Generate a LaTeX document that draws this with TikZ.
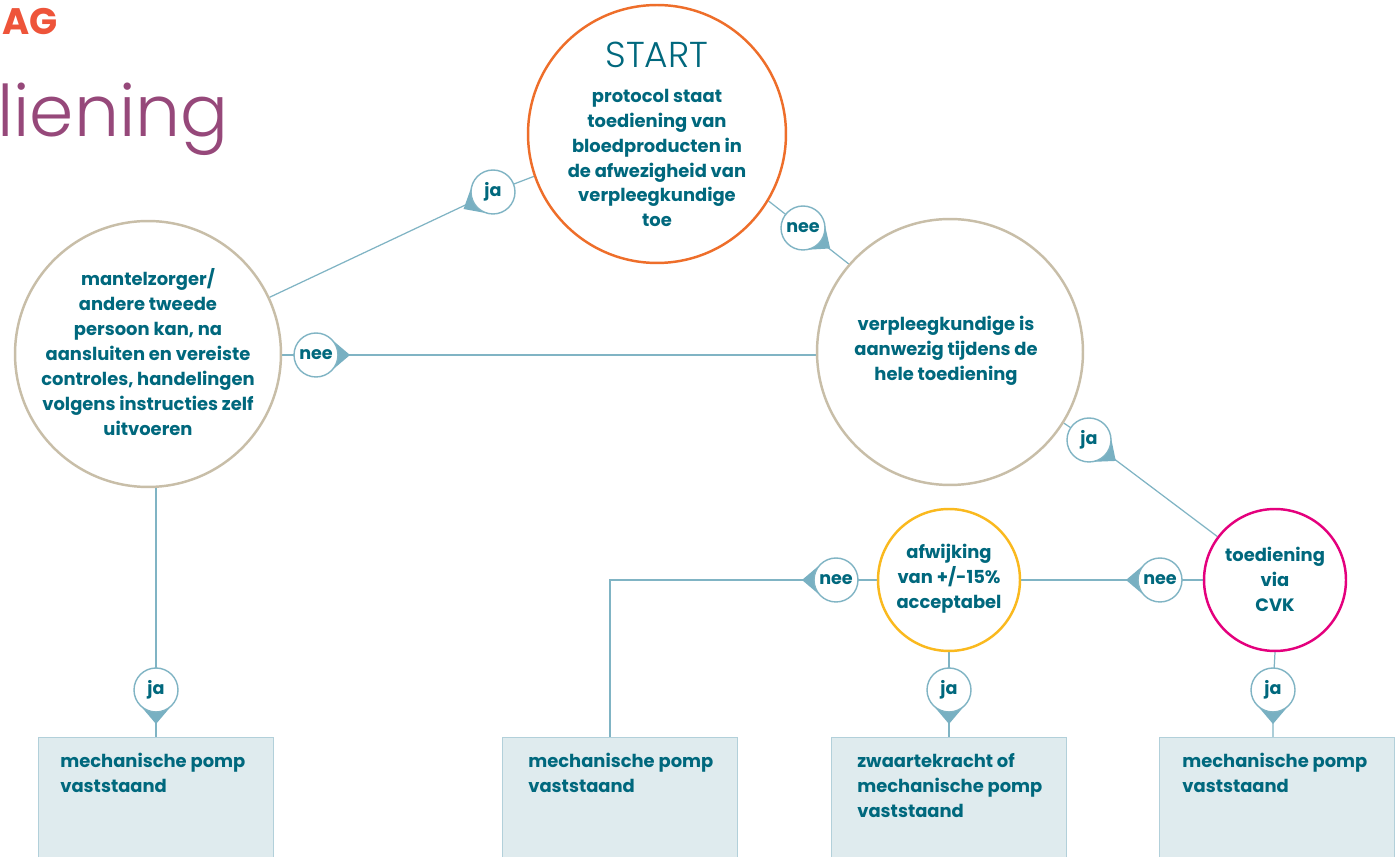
\documentclass[tikz,border=0pt]{standalone}
\usepackage{fontspec}
\setmainfont{Poppins}
\newfontfamily\lightfont{Poppins Light}
\usetikzlibrary{calc}
\pgfdeclarelayer{bg}
\pgfsetlayers{bg,main}
\definecolor{txtteal}{RGB}{0,104,125}
\definecolor{lineblue}{RGB}{128,180,196}
\definecolor{pinblue}{RGB}{120,176,194}
\definecolor{startorange}{RGB}{238,110,42}
\definecolor{beige}{RGB}{200,190,168}
\definecolor{gold}{RGB}{250,185,30}
\definecolor{magentaring}{RGB}{228,0,125}
\definecolor{boxfill}{RGB}{223,235,238}
\definecolor{boxline}{RGB}{178,208,218}
\definecolor{titlered}{RGB}{238,84,58}
\definecolor{titlepurple}{RGB}{150,72,122}
\tikzset{
  ring/.style={circle, draw=#1, line width=1.4pt, fill=white, inner sep=0pt},
  bigring/.style={ring=#1, minimum size=5.32cm},
  smallring/.style={ring=#1, minimum size=2.84cm},
  ctext/.style={align=center, text=txtteal, font=\bfseries\fontsize{10.2}{14.17}\selectfont, inner sep=0pt},
  mk/.style={circle, draw=lineblue, line width=0.8pt, fill=white, inner sep=0pt, minimum size=0.88cm, text=txtteal, font=\bfseries\fontsize{10}{12}\selectfont},
  conn/.style={draw=lineblue, line width=0.7pt},
  boxs/.style={rectangle, draw=boxline, line width=0.6pt, fill=boxfill, minimum width=4.7cm, minimum height=2.6cm, inner sep=0pt, anchor=north west},
  btext/.style={align=left, anchor=north west, text=txtteal, font=\bfseries\fontsize{10.2}{14.17}\selectfont, inner sep=0pt},
}
\newcommand\pinmark[5]{%
  \fill[pinblue] ($(#2,#3)+(#4+50:22)$) -- ($(#2,#3)+(#4:34)$) -- ($(#2,#3)+(#4-50:22)$) -- cycle;
  \node[mk] (#1) at (#2,#3) {#5};}
\begin{document}
\begin{tikzpicture}[x=0.02cm,y=0.02cm]
\useasboundingbox (0,0) rectangle (1400,-857);
\clip (0,0) rectangle (1400,-857);
% title fragments
\node[anchor=base west, inner sep=0pt, text=titlered, font=\bfseries\fontsize{21}{24}\selectfont] (tag) at (2,-35) {AG};
\node[anchor=base west, inner sep=0pt, text=titlepurple, font=\lightfont\fontsize{40.5}{46}\selectfont] (ttl) at (-3,-137) {liening};
% circles
\node[ring=startorange, minimum size=5.16cm] (st) at (657,-134) {};
\node[bigring=beige] (mz) at (148,-354) {};
\node[bigring=beige] (vp) at (950,-352) {};
\node[smallring=gold] (aw) at (949,-580) {};
\node[smallring=magentaring] (cvk) at (1275,-580) {};
% circle texts
\node[inner sep=0pt, text=txtteal, font=\lightfont\fontsize{20.5}{22}\selectfont] (stt) at (657,-55) {START};
\node[ctext] (stb) at (657,-158) {protocol staat\\toediening van\\bloedproducten in\\de afwezigheid van\\verpleegkundige\\toe};
\node[ctext] (mzt) at (148,-352) {mantelzorger/\\andere tweede\\persoon kan, na\\aansluiten en vereiste\\controles, handelingen\\volgens instructies zelf\\uitvoeren};
\node[ctext] (vpt) at (946,-351) {verpleegkundige is\\aanwezig tijdens de\\hele toediening};
\node[ctext] (awt) at (949,-579) {afwijking\\van +/-15\%\\acceptabel};
\node[ctext] (cvkt) at (1275,-579) {toediening\\via\\CVK};
% boxes
\node[boxs] (b1) at (38,-737) {};
\node[boxs] (b2) at (502,-737) {};
\node[boxs] (b3) at (831,-737) {};
\node[boxs] (b4) at (1159,-737) {};
\node[btext] (b1t) at (60,-753) {mechanische pomp\\vaststaand};
\node[btext] (b2t) at (528,-753) {mechanische pomp\\vaststaand};
\node[btext] (b3t) at (857,-753) {zwaartekracht of\\mechanische pomp\\vaststaand};
\node[btext] (b4t) at (1182,-753) {mechanische pomp\\vaststaand};
% markers
\pinmark{m1}{493}{-192}{210}{ja}
\pinmark{m2}{803}{-228}{-37}{nee}
\pinmark{m3}{316}{-355}{0}{nee}
\pinmark{m4}{1089}{-440}{-38}{ja}
\pinmark{m5}{1160}{-580}{180}{nee}
\pinmark{m6}{836}{-580}{180}{nee}
\pinmark{m7}{156}{-690}{270}{ja}
\pinmark{m8}{949}{-690}{270}{ja}
\pinmark{m9}{1273}{-690}{270}{ja}
\coordinate (cn) at (610,-580);
% connectors
\begin{pgfonlayer}{bg}
\fill[white] (0,0) rectangle (1400,-857);
\draw[conn] (mz.25) -- (m1.center) -- (st.199);
\draw[conn] (st.-31.5) -- (m2.center) -- (vp.139);
\draw[conn] (m3.center -| mz.east) -- (m3.center) -- (m3.center -| vp.west);
\draw[conn] (vp.-32) -- (m4.center) -- (cvk.143);
\draw[conn] (cvk.west) -- (m5.center) -- (aw.east);
\draw[conn] (aw.west) -- (m6.center) -- (cn) -- (cn |- b2.north);
\draw[conn] (m7.center |- mz.south) -- (m7.center) -- (m7.center |- b1.north);
\draw[conn] (aw.south) -- (m8.center) -- (m8.center |- b3.north);
\draw[conn] (cvk.south) -- (m9.center) -- (m9.center |- b4.north);
\end{pgfonlayer}
\end{tikzpicture}
\end{document}
